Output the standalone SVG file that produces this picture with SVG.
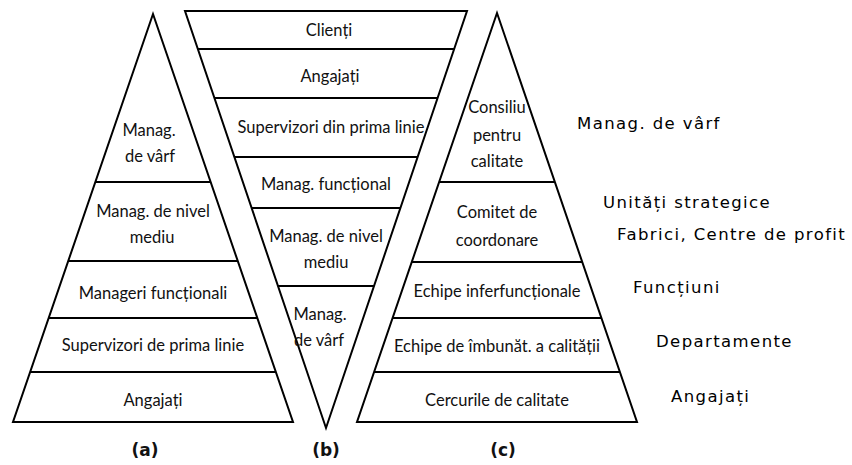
<svg xmlns="http://www.w3.org/2000/svg" width="852" height="465" viewBox="0 0 852 465">
  <style>
    .shape { fill: none; stroke: #000; stroke-width: 2; stroke-linejoin: miter; }
    .sep { stroke: #000; stroke-width: 2; }
    .tier { font-family: Lato, "Open Sans", "DejaVu Sans", sans-serif; font-size: 16.5px; fill: #111; text-anchor: middle; }
    .side { font-family: "DejaVu Sans", Verdana, sans-serif; font-size: 16.5px; fill: #000; letter-spacing: 1.4px; }
    .cap { font-family: "DejaVu Sans", Verdana, sans-serif; font-size: 17px; font-weight: bold; fill: #111; text-anchor: middle; }
  </style>
  <rect width="852" height="465" fill="#fff"/>

  <!-- (a) classic pyramid -->
  <g id="pyramid-a">
    <polygon class="shape" points="153,14 293,422 13,422"/>
    <g class="seps">
      <line class="sep" x1="95.4" y1="182" x2="210.6" y2="182"/>
      <line class="sep" x1="68.2" y1="261" x2="237.8" y2="261"/>
      <line class="sep" x1="48.7" y1="318" x2="257.3" y2="318"/>
      <line class="sep" x1="30.2" y1="372" x2="275.8" y2="372"/>
    </g>
    <g id="a-top"><text class="tier" x="149" y="136">Manag.</text><text class="tier" x="150" y="162">de vârf</text></g>
    <g id="a-middle"><text class="tier" x="153" y="217">Manag. de nivel</text><text class="tier" x="152" y="243">mediu</text></g>
    <g id="a-functional"><text class="tier" x="153" y="299">Manageri funcționali</text></g>
    <g id="a-supervisors"><text class="tier" x="153" y="351">Supervizori de prima linie</text></g>
    <g id="a-employees"><text class="tier" x="153" y="406">Angajați</text></g>
  </g>

  <!-- (b) inverted pyramid -->
  <g id="pyramid-b">
    <polygon class="shape" points="185,11 467,11 326,428"/>
    <g class="seps">
      <line class="sep" x1="197.8" y1="49" x2="454.2" y2="49"/>
      <line class="sep" x1="214.4" y1="98" x2="437.6" y2="98"/>
      <line class="sep" x1="234.4" y1="157" x2="417.6" y2="157"/>
      <line class="sep" x1="251.6" y1="208" x2="400.4" y2="208"/>
      <line class="sep" x1="278" y1="286" x2="374" y2="286"/>
    </g>
    <g id="b-clients"><text class="tier" x="329" y="36">Clienți</text></g>
    <g id="b-employees"><text class="tier" x="330" y="82">Angajați</text></g>
    <g id="b-supervisors"><text class="tier" x="331" y="133">Supervizori din prima linie</text></g>
    <g id="b-functional"><text class="tier" x="326" y="190">Manag. funcțional</text></g>
    <g id="b-middle"><text class="tier" x="326" y="242">Manag. de nivel</text><text class="tier" x="326" y="268">mediu</text></g>
    <g id="b-top"><text class="tier" x="320" y="320">Manag.</text><text class="tier" x="319" y="346">de vârf</text></g>
  </g>

  <!-- (c) quality structure pyramid -->
  <g id="pyramid-c">
    <polygon class="shape" points="497,13 637,422 357,422"/>
    <g class="seps">
      <line class="sep" x1="439.2" y1="182" x2="554.8" y2="182"/>
      <line class="sep" x1="411.8" y1="262" x2="582.2" y2="262"/>
      <line class="sep" x1="392.6" y1="318" x2="601.4" y2="318"/>
      <line class="sep" x1="374.1" y1="372" x2="619.9" y2="372"/>
    </g>
    <g id="c-council"><text class="tier" x="497" y="113">Consiliu</text><text class="tier" x="497" y="141">pentru</text><text class="tier" x="497" y="167">calitate</text></g>
    <g id="c-committee"><text class="tier" x="497" y="218">Comitet de</text><text class="tier" x="497" y="246">coordonare</text></g>
    <g id="c-crossfunc"><text class="tier" x="497" y="297">Echipe inferfuncționale</text></g>
    <g id="c-improve"><text class="tier" x="497" y="352">Echipe de îmbunăt. a calității</text></g>
    <g id="c-circles"><text class="tier" x="497" y="406">Cercurile de calitate</text></g>
  </g>

  <!-- organisational levels beside (c) -->
  <g id="levels">
    <text class="side" x="577" y="129">Manag. de vârf</text>
    <text class="side" x="603" y="208">Unități strategice</text>
    <text class="side" x="617" y="240">Fabrici, Centre de profit</text>
    <text class="side" x="633" y="293">Funcțiuni</text>
    <text class="side" x="656" y="347">Departamente</text>
    <text class="side" x="671" y="402">Angajați</text>
  </g>

  <!-- captions -->
  <g id="captions">
    <text class="cap" x="145" y="456">(a)</text>
    <text class="cap" x="326" y="456">(b)</text>
    <text class="cap" x="503" y="456">(c)</text>
  </g>
</svg>
